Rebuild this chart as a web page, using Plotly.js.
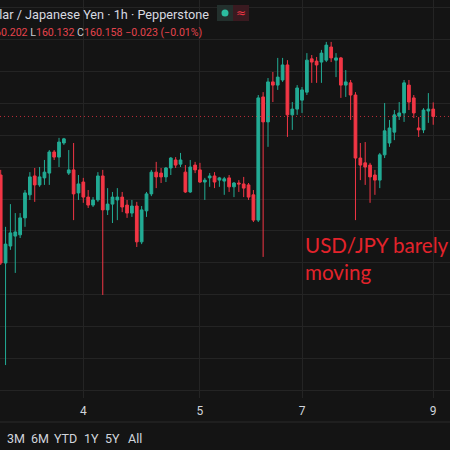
<!DOCTYPE html>
<html><head><meta charset="utf-8">
<script src="https://cdn.plot.ly/plotly-3.0.1.min.js"></script>
<style>html,body{margin:0;padding:0;background:#141414;}#chart{width:450px;height:450px;}</style>
</head><body><div id="chart"></div>
<script>
// USD/JPY 1h candles (prices)
const openP = [159.975,159.700,159.753,159.784,159.788,159.841,159.913,159.972,159.944,159.966,
159.981,160.047,160.031,160.075,159.981,159.991,159.919,159.953,159.906,159.881,
159.897,159.972,159.866,159.884,159.897,159.906,159.881,159.856,159.878,159.766,
159.863,159.916,159.984,159.981,159.969,159.997,160.022,160.009,159.984,159.922,
160.006,159.991,159.953,159.966,159.972,159.959,159.956,159.966,159.938,159.950,
159.947,159.944,159.913,159.834,160.219,160.141,160.266,160.256,160.272,160.319,
160.163,160.181,160.209,160.234,160.338,160.331,160.328,160.334,160.375,160.334,
160.341,160.256,160.263,160.225,160.028,160.013,160.006,159.975,159.959,160.038,
160.075,160.109,160.159,160.169,160.256,160.216,160.122,160.116,160.175,160.181];
const highP = [159.991,159.813,159.884,159.856,159.856,159.928,159.984,159.997,160.000,160.022,
160.053,160.053,160.091,160.091,160.053,160.075,159.975,159.966,159.928,159.906,
159.984,159.991,159.934,159.922,159.934,159.922,159.897,159.897,159.891,159.878,
159.922,159.991,160.016,159.997,160.000,160.031,160.031,160.044,160.006,160.022,
160.016,160.013,159.966,159.981,159.984,159.969,159.969,159.975,159.953,159.959,
159.969,159.950,159.928,160.225,160.234,160.278,160.297,160.341,160.341,160.334,
160.203,160.256,160.250,160.356,160.350,160.344,160.366,160.391,160.391,160.356,
160.344,160.303,160.272,160.234,160.075,160.078,160.013,159.991,160.044,160.200,
160.147,160.178,160.203,160.272,160.272,160.225,160.156,160.184,160.231,160.202];
const lowP = [159.694,159.381,159.741,159.669,159.778,159.813,159.897,159.891,159.938,159.944,
159.944,160.022,160.000,160.069,159.975,159.834,159.897,159.888,159.872,159.875,
159.891,159.600,159.850,159.825,159.834,159.859,159.841,159.844,159.750,159.759,
159.844,159.909,159.934,159.950,159.953,159.975,159.997,160.000,159.919,159.919,
159.981,159.950,159.897,159.938,159.934,159.938,159.913,159.922,159.906,159.922,
159.906,159.897,159.828,159.828,159.719,160.063,160.203,160.241,160.266,160.094,
160.116,160.163,160.169,160.225,160.263,160.263,160.263,160.328,160.328,160.281,
160.216,160.219,160.147,159.834,159.959,159.944,159.888,159.913,159.934,160.028,
160.063,160.084,160.147,160.141,160.178,160.153,160.094,160.106,160.138,160.132];
const closeP = [159.700,159.759,159.794,159.797,159.841,159.919,159.969,159.944,159.969,159.984,
160.047,160.031,160.078,160.088,159.991,159.916,159.947,159.906,159.881,159.897,
159.972,159.866,159.884,159.906,159.906,159.875,159.856,159.878,159.766,159.866,
159.916,159.984,159.969,159.969,159.997,160.028,160.006,160.022,159.922,160.000,
159.991,159.953,159.959,159.972,159.953,159.966,159.963,159.938,159.950,159.947,
159.934,159.906,159.834,160.216,160.141,160.266,160.256,160.281,160.319,160.163,
160.181,160.247,160.241,160.334,160.328,160.319,160.356,160.381,160.341,160.341,
160.256,160.266,160.225,160.028,160.006,160.000,159.969,159.959,160.038,160.113,
160.122,160.163,160.169,160.263,160.203,160.169,160.116,160.178,160.181,160.158];

// time axis: bar index where each day label sits
const dayTickIdx = [17, 41, 62, 89];
const dayTickText = ['4', '5', '7', '9'];
const rangeButtons = ['3M', '6M', 'YTD', '1Y', '5Y', 'All'];
const rangeButtonX = [15.5, 39.5, 65, 91, 112.5, 135];
const titleText = 'U.S. Dollar / Japanese Yen \u00b7 1h \u00b7 Pepperstone';
const noteLines = ['USD/JPY barely', 'moving'];

const barIdx = openP.map((_, i) => i);
const W = 450, PH = 398;
const UP = '#22ab94', DN = '#f23645';
const px = x => x / W;
const py = y => 1 - y / PH;

const n = closeP.length;
const prevClose = closeP[n - 2];
const chg = closeP[n - 1] - prevClose;
const pct = chg / prevClose * 100;
const mfmt = v => (v < 0 ? '\u2212' : '+') + Math.abs(v).toFixed(3);
const red = '#e5434c', gray = '#c9ccd3';
const lab = (l, v) => `<span style="color:${gray}">${l}</span><span style="color:${red}">${v.toFixed(3)}</span>`;
const ohlcText = [lab('O', openP[n-1]), lab('H', highP[n-1]), lab('L', lowP[n-1]), lab('C', closeP[n-1]),
  `<span style="color:${red}">${mfmt(chg)} (${pct < 0 ? '\u2212' : '+'}${Math.abs(pct).toFixed(2)}%)</span>`].join(' ');

const trace = {
  type: 'candlestick',
  x: barIdx, open: openP, high: highP, low: lowP, close: closeP,
  increasing: {line: {color: UP, width: 1}, fillcolor: UP},
  decreasing: {line: {color: DN, width: 1}, fillcolor: DN},
  whiskerwidth: 0, hoverinfo: 'none', showlegend: false
};

const annotations = [
  {xref: 'paper', yref: 'paper', x: px(211), y: py(14), xanchor: 'right', yanchor: 'middle', showarrow: false,
   text: titleText, font: {family: 'Roboto', size: 12.7, color: '#d8dae0'}},
  {xref: 'paper', yref: 'paper', x: px(204), y: py(32), xanchor: 'right', yanchor: 'middle', showarrow: false,
   text: ohlcText, font: {family: 'Roboto', size: 10.6, color: red}},
  {xref: 'paper', yref: 'paper', x: px(241), y: py(13), xanchor: 'center', yanchor: 'middle', showarrow: false,
   text: '\u2248', font: {family: 'DejaVu Sans', size: 12, color: '#f23645'}},
  {xref: 'paper', yref: 'paper', x: px(303), y: py(258), xanchor: 'left', yanchor: 'middle', align: 'left', showarrow: false,
   text: noteLines.join('<br>'), font: {family: 'Lato', size: 20.6, color: '#e3232b'}}
];
rangeButtons.forEach((t, i) => annotations.push({
  xref: 'paper', yref: 'paper', x: px(rangeButtonX[i]), y: py(438), xanchor: 'center', yanchor: 'middle', showarrow: false,
  text: t, font: {family: 'Roboto', size: 12.5, color: '#d1d4dc'}
}));

const shapes = [
  {type: 'line', xref: 'paper', yref: 'y', x0: 0, x1: 1, y0: closeP[n-1], y1: closeP[n-1],
   line: {color: 'rgba(242,54,69,0.75)', width: 1, dash: '1px,3px'}},
  {type: 'line', xref: 'paper', yref: 'paper', x0: 0, x1: 1, y0: py(422), y1: py(422),
   line: {color: '#2a2a2a', width: 1}},
  {type: 'rect', xref: 'paper', yref: 'paper', x0: px(217), x1: px(233), y0: py(5), y1: py(21),
   line: {width: 0}, fillcolor: '#23302d'},
  {type: 'rect', xref: 'paper', yref: 'paper', x0: px(233), x1: px(249), y0: py(5), y1: py(21),
   line: {width: 0}, fillcolor: '#3a1a20'},
  {type: 'circle', xref: 'paper', yref: 'paper', x0: px(221.5), x1: px(228.5), y0: py(9.5), y1: py(16.5),
   line: {width: 0}, fillcolor: '#2bbd9f'}
];

const layout = {
  width: 450, height: 450,
  margin: {l: 0, r: 0, t: 0, b: 52, pad: 0},
  paper_bgcolor: '#141414', plot_bgcolor: '#141414',
  showlegend: false, boxgap: 0.2, dragmode: false,
  xaxis: {range: [-0.144, 92.45], tickvals: dayTickIdx, ticktext: dayTickText,
    showgrid: true, gridcolor: '#242424', gridwidth: 1, zeroline: false, showline: false, ticks: '',
    ticklabelstandoff: 4,
    tickfont: {family: 'Roboto', size: 12, color: '#d1d4dc'}, rangeslider: {visible: false}, fixedrange: true},
  yaxis: {range: [159.278, 160.522], dtick: 0.1, tick0: 0, showgrid: true, gridcolor: '#242424',
    showticklabels: false, zeroline: false, ticks: '', fixedrange: true},
  shapes: shapes, annotations: annotations
};

Plotly.newPlot('chart', [trace], layout, {displayModeBar: false, staticPlot: true});
</script></body></html>
